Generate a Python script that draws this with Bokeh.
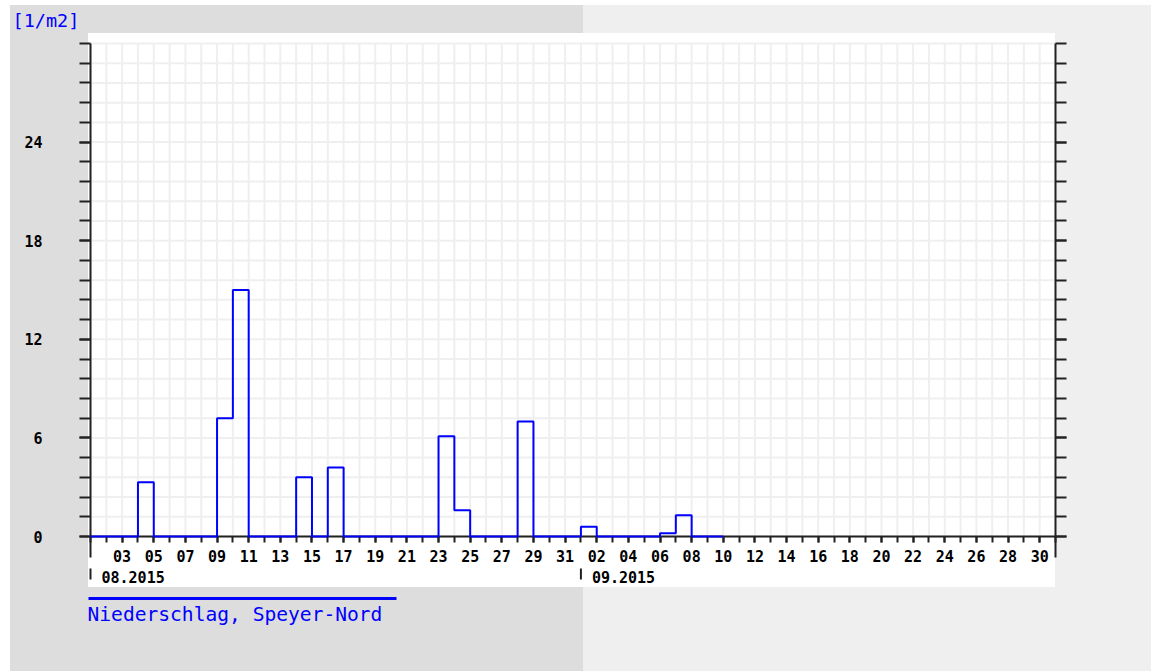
import pandas as pd
from bokeh.plotting import figure
from bokeh.models import (FixedTicker, LinearAxis, DatetimeTickFormatter, Label,
                          Arrow, Range1d)
from bokeh.embed import file_html
from bokeh.resources import INLINE

# ---------------- data ----------------
start_date = "2015-08-01"
end_date = "2015-10-01"
# daily precipitation [l/m2] from 2015-08-01 to 2015-09-09
precip = [0, 0, 0, 3.3, 0, 0, 0, 0, 7.2, 15.0,
          0, 0, 0, 3.6, 0, 4.2, 0, 0, 0, 0,
          0, 0, 6.1, 1.6, 0, 0, 0, 7.0, 0, 0,
          0, 0.6, 0, 0, 0, 0, 0.2, 1.3, 0, 0]
series_name = "Niederschlag, Speyer-Nord"
unit_label = "[1/m2]"
month_labels = ["08.2015", "09.2015"]
month_starts = ["2015-08-01", "2015-09-01"]
y_major = [0, 6, 12, 18, 24]
y_minor_step = 1.2
y_max = 30

# ---------------- helpers ----------------
def ms(d):
    return pd.Timestamp(d).value // 10**6

DAY = 86400000
x0, x1 = ms(start_date), ms(end_date)
days = [x0 + i * DAY for i in range(len(precip) + 1)]
vals = precip + [0]

all_days = list(range(x0, x1 + 1, DAY))
label_days = list(range(ms("2015-08-03"), ms("2015-09-30") + 1, 2 * DAY))
y_minor = [round(i * y_minor_step, 4) for i in range(int(y_max / y_minor_step) + 1)]

# layout (pixels on the canvas)
W, H = 1151, 671
PL, PR = 90, 1055      # plot area left / right
PT, PB = 43, 536       # plot area top / bottom
PXD = (PR - PL) / ((x1 - x0) / DAY)   # px per day
PXU = (PB - PT) / y_max               # px per unit

def X(px):
    return x0 + (px - PL) / PXD * DAY

def Y(py):
    return (PB - py) / PXU

BLUE = "#0000ff"
AX = "#222222"
MONO = "DejaVu Sans Mono"

p = figure(width=W, height=H, x_axis_type="datetime",
           x_range=Range1d(X(0), X(W)), y_range=Range1d(Y(H), Y(0)),
           output_backend="svg", toolbar_location=None,
           min_border_left=0, min_border_right=0,
           min_border_top=0, min_border_bottom=0,
           background_fill_color=None, border_fill_color=None,
           outline_line_color=None)
p.styles = {
    "background": "linear-gradient(#ffffff, #ffffff) 88px 33px / 967px 554px no-repeat, "
                  "linear-gradient(#ffffff, #ffffff) 0px 0px / 100% 5px no-repeat, "
                  "linear-gradient(to right, #ffffff 0px, #ffffff 10px, #dddddd 10px, "
                  "#dddddd 583px, #efefef 583px, #efefef 100%)"
}
p.grid.visible = False

# grid lines of the plot area
p.segment(x0=all_days, y0=[0] * len(all_days), x1=all_days, y1=[y_max] * len(all_days),
          line_color="#efefef", line_width=2)
p.segment(x0=[x0] * len(y_minor), y0=y_minor, x1=[x1] * len(y_minor), y1=y_minor,
          line_color="#efefef", line_width=2)

# x axis
xa = p.xaxis[0]
xa.fixed_location = 0
xa.bounds = (x0, x1)
xa.ticker = FixedTicker(ticks=label_days, minor_ticks=all_days)
xa.formatter = DatetimeTickFormatter(days="%d", months="%d", hours="%d")
xa.axis_line_color = AX
xa.axis_line_width = 2
xa.major_tick_in = 0
xa.major_tick_out = 6
xa.minor_tick_in = 0
xa.minor_tick_out = 6
xa.major_tick_line_color = AX
xa.minor_tick_line_color = AX
xa.major_tick_line_width = 2
xa.minor_tick_line_width = 2
xa.major_label_standoff = 7
xa.major_label_text_font = MONO
xa.major_label_text_font_style = "bold"
xa.major_label_text_font_size = "15px"
xa.major_label_text_color = "black"

# y axes
def style_y(ax):
    ax.ticker = FixedTicker(ticks=y_major, minor_ticks=y_minor)
    ax.bounds = (Y(557), y_max)
    ax.axis_line_color = AX
    ax.axis_line_width = 2
    ax.major_tick_in = 0
    ax.major_tick_out = 11
    ax.minor_tick_in = 0
    ax.minor_tick_out = 11
    ax.major_tick_line_color = AX
    ax.minor_tick_line_color = AX
    ax.major_tick_line_width = 2
    ax.minor_tick_line_width = 2
    ax.major_label_text_font = MONO
    ax.major_label_text_font_style = "bold"
    ax.major_label_text_font_size = "15px"
    ax.major_label_text_color = "black"

ya = p.yaxis[0]
style_y(ya)
ya.fixed_location = x0
ya.major_label_standoff = 37

yr = LinearAxis()
style_y(yr)
yr.fixed_location = x1
yr.major_label_overrides = {t: "" for t in y_major}
p.add_layout(yr, "right")

# month markers and labels
for ml, md in zip(month_labels, month_starts):
    mx = ms(md)
    p.add_layout(Arrow(end=None, x_start=mx, y_start=Y(568), x_end=mx, y_end=Y(579),
                       line_color=AX, line_width=2))
    p.add_layout(Label(x=mx, y=Y(576), x_offset=11, text=ml,
                       text_font=MONO, text_font_style="bold",
                       text_font_size="15px", text_color="black",
                       text_align="left", text_baseline="middle"))

# data step line
p.step(days, vals, mode="after", line_color=BLUE, line_width=2, level="overlay")

# unit label
p.add_layout(Label(x=X(12), y=Y(20), text=unit_label,
                   text_font=MONO, text_font_size="18.5px", text_color=BLUE,
                   text_align="left", text_baseline="middle"))

# legend
p.add_layout(Arrow(end=None, x_start=X(88), y_start=Y(598),
                   x_end=X(396), y_end=Y(598),
                   line_color=BLUE, line_width=3))
p.add_layout(Label(x=X(87), y=Y(614), text=series_name,
                   text_font=MONO, text_font_size="19.6px", text_color=BLUE,
                   text_align="left", text_baseline="middle"))

open("out.html", "w").write(file_html(p, INLINE))
